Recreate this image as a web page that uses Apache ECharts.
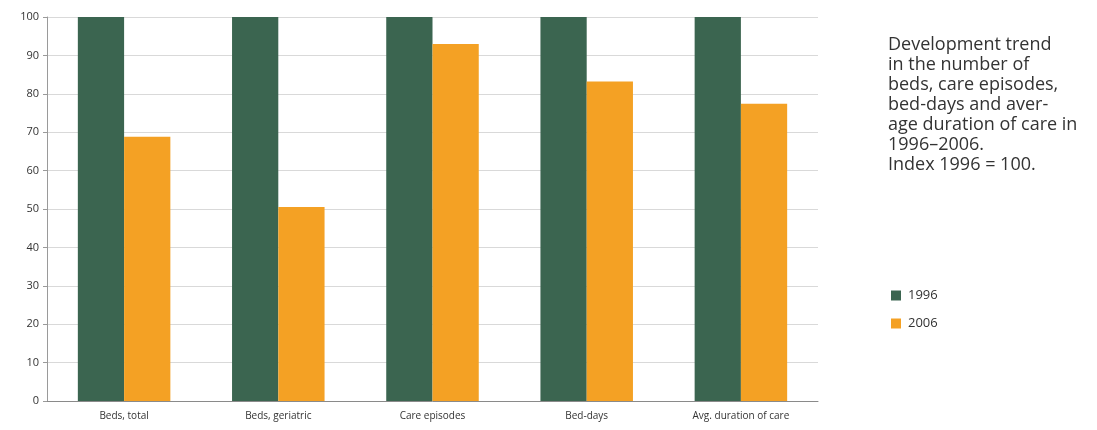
<!DOCTYPE html>
<html>
<head>
<meta charset="utf-8">
<script src="https://cdn.jsdelivr.net/npm/echarts@6/dist/echarts.min.js"></script>
<style>
  html, body { margin: 0; padding: 0; background: #fff; }
  #chart { width: 1097px; height: 430px; }
</style>
</head>
<body>
<div id="chart"></div>
<script>
// Index values, 1996 = 100
const categories = ['Beds, total', 'Beds, geriatric', 'Care episodes', 'Bed-days', 'Avg. duration of care'];
const values1996 = [100, 100, 100, 100, 100];
const values2006 = [68.8, 50.5, 93, 83.2, 77.4];
const yTicks = [0, 10, 20, 30, 40, 50, 60, 70, 80, 90, 100];
const seriesNames = ['1996', '2006'];
const noteLines = [
  'Development trend',
  'in the number of',
  'beds, care episodes,',
  'bed-days and aver-',
  'age duration of care in',
  '1996\u20132006.',
  'Index 1996 = 100.'
];

const GREEN = '#3b6550';
const ORANGE = '#f4a124';
const FONT = '"Open Sans", Lato, sans-serif';

const chart = echarts.init(document.getElementById('chart'), null, { renderer: 'canvas' });

chart.setOption({
  backgroundColor: '#ffffff',
  animation: false,
  textStyle: { fontFamily: FONT },
  grid: { left: 47, right: 279, top: 17, bottom: 29, containLabel: false },
  legend: {
    orient: 'vertical',
    left: 886,
    top: 284,
    itemWidth: 10,
    itemHeight: 10,
    itemGap: 15,
    icon: 'rect',
    data: seriesNames,
    textStyle: { color: '#333', fontSize: 13, fontFamily: FONT, padding: [0, 0, 0, 2] }
  },
  xAxis: {
    type: 'category',
    data: categories,
    axisLine: { lineStyle: { color: '#8a8a8a', width: 1 } },
    axisTick: { show: false },
    axisLabel: { color: '#333', fontSize: 10, margin: 10, fontFamily: FONT }
  },
  yAxis: {
    type: 'value',
    min: yTicks[0],
    max: yTicks[yTicks.length - 1],
    interval: 10,
    axisLine: { show: true, lineStyle: { color: '#9a9a9a', width: 1 } },
    axisTick: { show: true, length: 4, lineStyle: { color: '#9a9a9a' } },
    axisLabel: {
      color: '#333', fontSize: 11, margin: 8, fontFamily: FONT,
      formatter: v => (yTicks.includes(v) ? String(v) : '')
    },
    splitLine: { show: true, lineStyle: { color: '#d9d9d9', width: 1 } }
  },
  series: [
    {
      name: seriesNames[0],
      type: 'bar',
      data: values1996,
      itemStyle: { color: GREEN },
      barWidth: '30%',
      barGap: '0%',
      barCategoryGap: '40%'
    },
    {
      name: seriesNames[1],
      type: 'bar',
      data: values2006,
      itemStyle: { color: ORANGE },
      barWidth: '30%',
      barGap: '0%',
      barCategoryGap: '40%'
    }
  ],
  graphic: [
    {
      type: 'text',
      left: 888,
      top: 35,
      style: {
        text: noteLines.join('\n'),
        fill: '#333',
        font: '18px ' + FONT,
        lineHeight: 20
      }
    }
  ]
});
</script>
</body>
</html>
